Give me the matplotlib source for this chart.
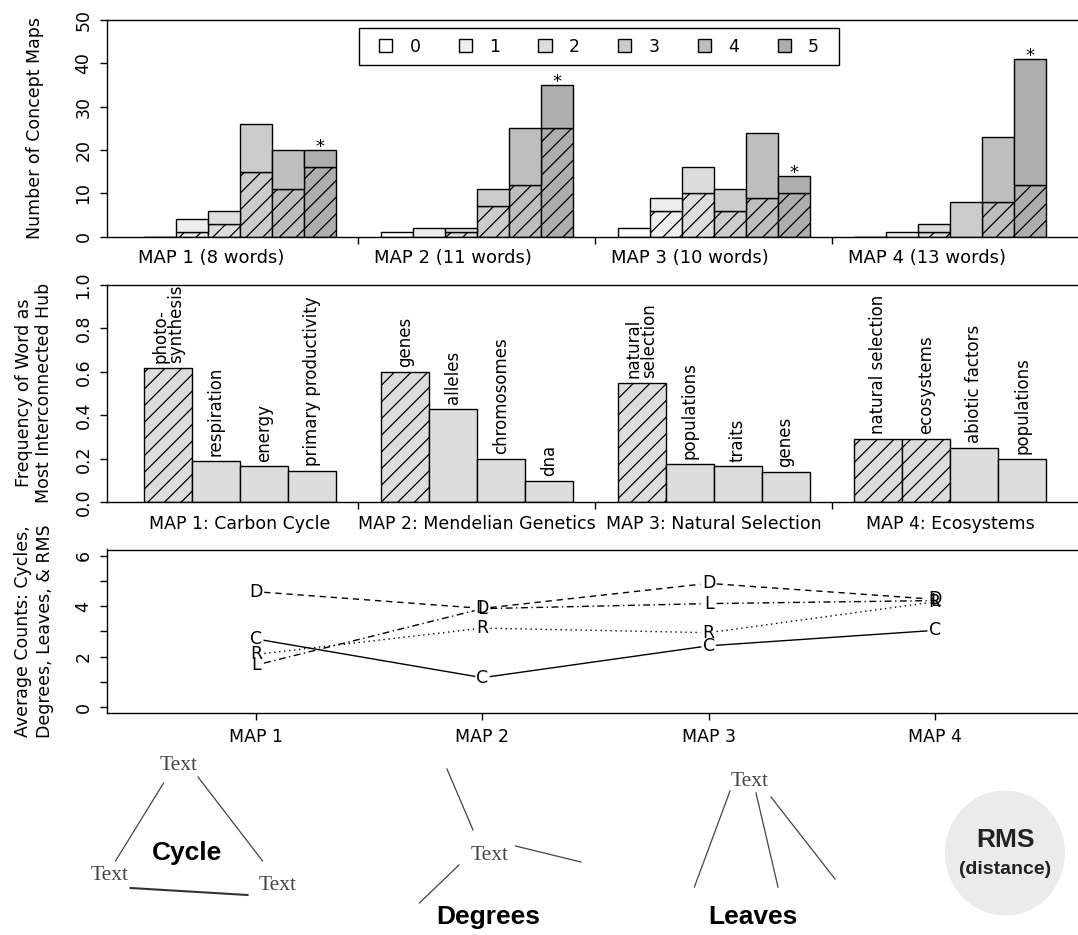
import numpy as np
import matplotlib
matplotlib.use("Agg")
import matplotlib.pyplot as plt
from matplotlib.patches import Patch, Rectangle, Ellipse

W, H = 1078, 935

# score levels used in the legend, and their grey fills
score_levels = ["0", "1", "2", "3", "4", "5"]
score_fills = ["#FFFFFF", "#EEEEEE", "#DDDDDD", "#CCCCCC", "#BEBEBE", "#AEAEAE"]

# top panel: concept maps per score (total and hatched part)
map_titles = ["MAP 1 (8 words)", "MAP 2 (11 words)", "MAP 3 (10 words)", "MAP 4 (13 words)"]
map_totals = [
    [0, 4, 6, 26, 20, 20],
    [1, 2, 2, 11, 25, 35],
    [2, 9, 16, 11, 24, 14],
    [0, 1, 3, 8, 23, 41],
]
map_hatched = [
    [0, 1, 3, 15, 11, 16],
    [0, 0, 1, 7, 12, 25],
    [0, 6, 10, 6, 9, 10],
    [0, 0, 1, 0, 8, 12],
]
star_score = [5, 5, 5, 5]

# middle panel: frequency of word as most interconnected hub
hub_titles = ["MAP 1: Carbon Cycle", "MAP 2: Mendelian Genetics",
              "MAP 3: Natural Selection", "MAP 4: Ecosystems"]
hub_words = [
    ["photo-\nsynthesis", "respiration", "energy", "primary productivity"],
    ["genes", "alleles", "chromosomes", "dna"],
    ["natural\nselection", "populations", "traits", "genes"],
    ["natural selection", "ecosystems", "abiotic factors", "populations"],
]
hub_freq = [
    [0.62, 0.19, 0.165, 0.145],
    [0.60, 0.43, 0.20, 0.10],
    [0.55, 0.175, 0.165, 0.14],
    [0.29, 0.29, 0.25, 0.20],
]
hub_hatched = [
    [True, False, False, False],
    [True, False, False, False],
    [True, False, False, False],
    [True, True, False, False],
]

# bottom panel: average counts
count_maps = ["MAP 1", "MAP 2", "MAP 3", "MAP 4"]
cycles = [2.70, 1.17, 2.43, 3.04]
degrees = [4.57, 3.91, 4.90, 4.27]
leaves = [1.67, 3.90, 4.10, 4.22]
rms = [2.09, 3.13, 2.95, 4.17]

plt.rcParams["font.family"] = "DejaVu Sans"
plt.rcParams["font.size"] = 12.5
plt.rcParams["hatch.linewidth"] = 0.9
plt.rcParams["axes.linewidth"] = 1.0

fig = plt.figure(figsize=(W / 100, H / 100), dpi=100)


def rect(l, t, r, b):
    # pixel box -> figure fraction [left, bottom, width, height]
    return [l / W, 1 - b / H, (r - l) / W, (b - t) / H]


def style_axis(ax):
    ax.tick_params(direction="out", length=5, width=1, pad=5.5, labelsize=12.5)
    ax.tick_params(axis="y", labelrotation=90)
    for lab in ax.get_yticklabels():
        lab.set_va("center")


group_step = 7.4
group_start = np.arange(4) * group_step
gap_ticks = group_start[1:] - 0.7
xlim_bars = (-1.156, 29.375)

# ---------------- top panel ----------------
ax1 = fig.add_axes(rect(107, 20, 1084, 236.7))
for g in range(4):
    x = group_start[g] + np.arange(6)
    tot = np.array(map_totals[g])
    hat = np.array(map_hatched[g])
    ax1.bar(x, hat, width=1, align="edge", color=score_fills,
            edgecolor="black", linewidth=1, hatch="//")
    ax1.bar(x, tot - hat, bottom=hat, width=1, align="edge", color=score_fills,
            edgecolor="black", linewidth=1)
    s = star_score[g]
    ax1.annotate("*", (x[s] + 0.5, tot[s]), xytext=(0, -1.5), textcoords="offset points",
                 ha="center", va="baseline", fontsize=13)
    ax1.text(group_start[g] - 0.2, -0.098, map_titles[g], transform=ax1.get_xaxis_transform(),
             ha="left", va="center", fontsize=13)
ax1.set_xlim(*xlim_bars)
ax1.set_ylim(0, 50)
ax1.set_yticks(range(0, 51, 10))
ax1.set_xticks(gap_ticks)
ax1.set_xticklabels([])
style_axis(ax1)

handles = [Patch(facecolor=c, edgecolor="black", linewidth=1) for c in score_fills]
fig.legend(handles, score_levels, ncol=6, mode="expand", loc="center",
           bbox_to_anchor=(379 / W, 1 - 65 / H, 440 / W, 37 / H), frameon=False,
           handlelength=0.75, handleheight=0.7, handletextpad=1.0,
           borderpad=0, borderaxespad=0, fontsize=12.5)
fig.add_artist(Rectangle((359 / W, 1 - 65 / H), 480 / W, 37 / H, transform=fig.transFigure,
                         fill=False, edgecolor="black", linewidth=1))

fig.text(35 / W, 1 - 128 / H, "Number of Concept Maps", rotation=90,
         ha="center", va="center", fontsize=12.5)

# ---------------- middle panel ----------------
ax2 = fig.add_axes(rect(107, 285, 1084, 502.3))
for g in range(4):
    x = group_start[g] + 1.5 * np.arange(4)
    hatches = ["//" if h else "" for h in hub_hatched[g]]
    ax2.bar(x, hub_freq[g], width=1.5, align="edge", color="#DDDDDD",
            edgecolor="black", linewidth=1, hatch=hatches)
    for k, word in enumerate(hub_words[g]):
        ax2.annotate(word, (x[k] + 0.75, hub_freq[g][k]), xytext=(0, 3.5),
                     textcoords="offset points", rotation=90, ha="center", va="bottom",
                     multialignment="left", linespacing=0.85, fontsize=12)
    ax2.text(group_start[g] + 3, -0.1, hub_titles[g], transform=ax2.get_xaxis_transform(),
             ha="center", va="center", fontsize=12.5)
ax2.set_xlim(*xlim_bars)
ax2.set_ylim(0, 1)
ax2.set_yticks(np.arange(0, 1.01, 0.2))
ax2.set_yticklabels(["0.0", "0.2", "0.4", "0.6", "0.8", "1.0"])
ax2.set_xticks(gap_ticks)
ax2.set_xticklabels([])
style_axis(ax2)

fig.text(34 / W, 1 - 393 / H, "Frequency of Word as\nMost Interconnected Hub", rotation=90,
         ha="center", va="center", fontsize=12.5, linespacing=1.15)

# ---------------- bottom panel ----------------
ax3 = fig.add_axes(rect(107, 549.5, 1084, 713.3))
ax3.set_xlim(0.34, 4.66)
ax3.set_ylim(-0.24, 6.24)
xs = np.arange(1, 5)


def gapped(ax, xv, yv, gap):
    pts = ax.transData.transform(np.column_stack([xv, yv]))
    inv = ax.transData.inverted()
    segs = []
    for p, q in zip(pts[:-1], pts[1:]):
        u = (q - p) / np.hypot(*(q - p))
        segs.append(inv.transform(np.array([p + u * gap, q - u * gap])))
    return segs


series = [
    ("C", cycles, (None, None)),
    ("D", degrees, (4.5, 3.5)),
    ("L", leaves, (5, 2.5, 1, 2.5)),
    ("R", rms, (1, 2.6)),
]
for letter, vals, dash in series:
    for seg in gapped(ax3, xs, vals, 8):
        ln, = ax3.plot(seg[:, 0], seg[:, 1], color="black", lw=1.0)
        if dash[0] is not None:
            ln.set_dashes(dash)
    for xv, yv in zip(xs, vals):
        ax3.text(xv, yv, letter, ha="center", va="center", fontsize=12.5)

ax3.set_xticks(xs)
ax3.set_xticklabels(count_maps)
ax3.set_yticks(range(0, 7))
ax3.set_yticklabels(["0", "", "2", "", "4", "", "6"])
style_axis(ax3)

fig.text(34 / W, 1 - 631 / H, "Average Counts: Cycles,\nDegrees, Leaves, & RMS", rotation=90,
         ha="center", va="center", fontsize=12.5, linespacing=1.3)

# ---------------- schematic legend below ----------------
axd = fig.add_axes([0, 0, 1, 1], zorder=-1)
axd.set_xlim(0, W)
axd.set_ylim(H, 0)
axd.axis("off")

sketch_lines = [
    ((163.6, 783), (115.5, 861)), ((198, 777), (262.6, 861)),
    ((447, 769), (473, 830)), ((515.6, 846), (581, 862)), ((459, 865), (419.4, 903)),
    ((730, 791), (694.4, 887)), ((756, 793), (778, 887)), ((771, 797), (835, 879)),
]
for (x0, y0), (x1, y1) in sketch_lines:
    axd.plot([x0, x1], [y0, y1], color="#444444", lw=0.9)
axd.plot([130.6, 247.5], [888, 895], color="#333333", lw=1.5)

for tx, ty in [(179, 765), (110, 875), (278, 886), (489.5, 855), (749.4, 782)]:
    axd.text(tx, ty, "Text", family="Liberation Serif", fontsize=15.5, color="#444444",
             ha="center", va="center")

for word, tx, ty in [("Cycle", 187, 853), ("Degrees", 488, 917), ("Leaves", 753, 917)]:
    axd.text(tx, ty, word, family="Liberation Sans", weight="bold", fontsize=19,
             ha="center", va="center")

axd.add_patch(Ellipse((1005, 853), 120, 125, facecolor="#EBEBEB", edgecolor="none"))
axd.text(1005, 840, "RMS", family="Liberation Sans", weight="bold", fontsize=19,
         ha="center", va="center", color="#222222")
axd.text(1005, 870, "(distance)", family="Liberation Sans", weight="bold", fontsize=14,
         ha="center", va="center", color="#222222")

fig.savefig("out.png", dpi=100, facecolor="white")
